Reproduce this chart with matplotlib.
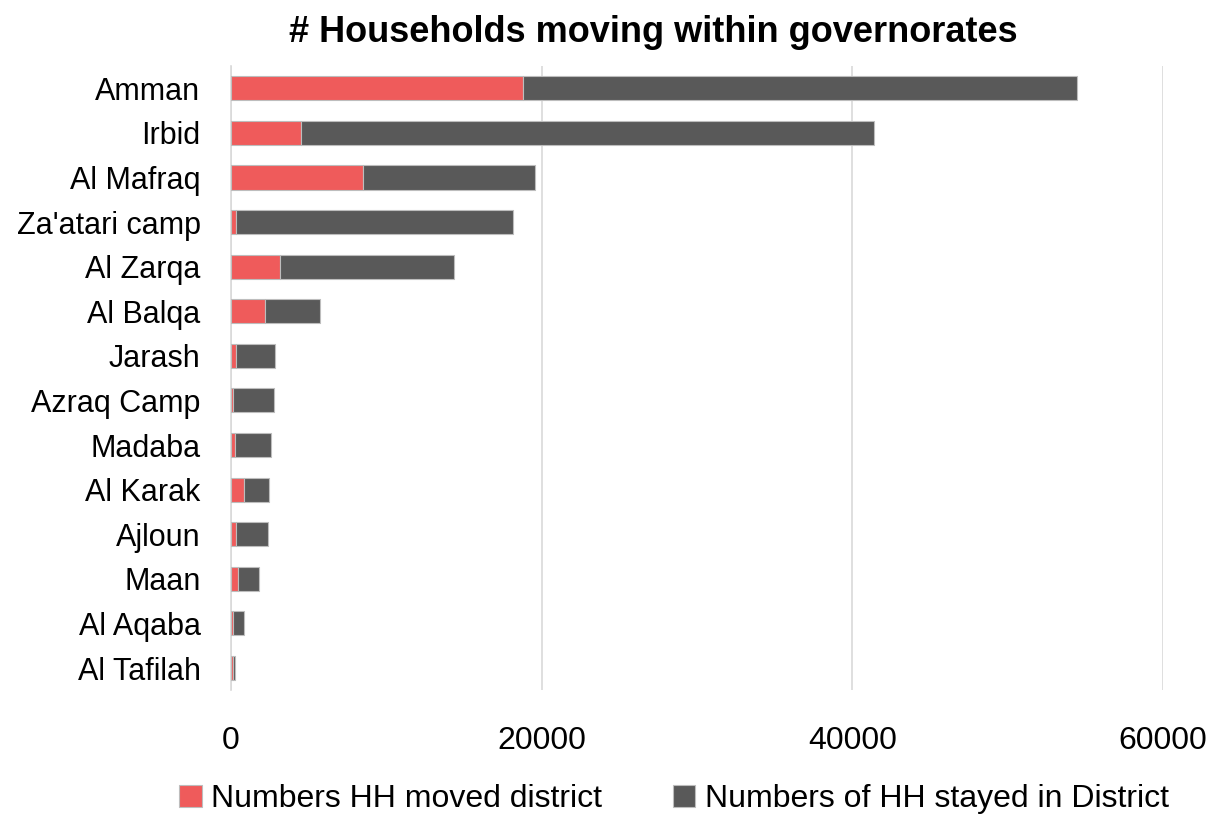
import matplotlib.pyplot as plt
import numpy as np

# governorates, top to bottom
districts = ['Amman', 'Irbid', 'Al Mafraq', "Za'atari camp", 'Al Zarqa', 'Al Balqa',
             'Jarash', 'Azraq Camp', 'Madaba', 'Al Karak', 'Ajloun', 'Maan',
             'Al Aqaba', 'Al Tafilah']
moved = [18770, 4520, 8490, 320, 3180, 2170, 300, 130, 240, 820, 300, 430, 110, 100]
stayed = [35690, 36850, 11075, 17825, 11200, 3570, 2495, 2645, 2360, 1650, 2085, 1395, 730, 180]

plt.rcParams['font.family'] = ['Liberation Sans', 'DejaVu Sans']

fig = plt.figure(figsize=(12.1, 8.15), dpi=100)
ax = fig.add_axes([0.191, 0.153, 0.770, 0.766])

y = np.arange(len(districts))
ax.barh(y, moved, height=0.54, color='#EF5B5B', edgecolor='#bdbdbd', linewidth=0.8,
        label='Numbers HH moved district', zorder=3)
ax.barh(y, stayed, left=moved, height=0.54, color='#595959', edgecolor='#bdbdbd',
        linewidth=0.8, label='Numbers of HH stayed in District', zorder=3)

ax.set_ylim(len(districts) - 0.5, -0.5)
ax.set_xlim(0, 60000)
ax.set_xticks([0, 20000, 40000, 60000])
ax.set_yticks(y)
ax.set_yticklabels(districts, fontsize=22)
ax.tick_params(axis='x', labelsize=23, length=0, pad=26)
ax.tick_params(axis='y', length=0, pad=22)
ax.grid(axis='x', color='#d9d9d9', linewidth=1.2, zorder=0)
for s in ['top', 'right', 'bottom']:
    ax.spines[s].set_visible(False)
ax.spines['left'].set_color('#d9d9d9')
ax.spines['left'].set_linewidth(1.2)

fig.text(0.54, 0.96, '# Households moving within governorates', fontsize=26,
         fontweight='bold', ha='center', va='center')

fig.legend(loc='lower center', bbox_to_anchor=(0.557, -0.034), ncol=2, frameon=False,
           fontsize=23, handlelength=0.7, handleheight=0.7, handletextpad=0.3,
           columnspacing=2.2)

fig.savefig('out.png', dpi=100)
